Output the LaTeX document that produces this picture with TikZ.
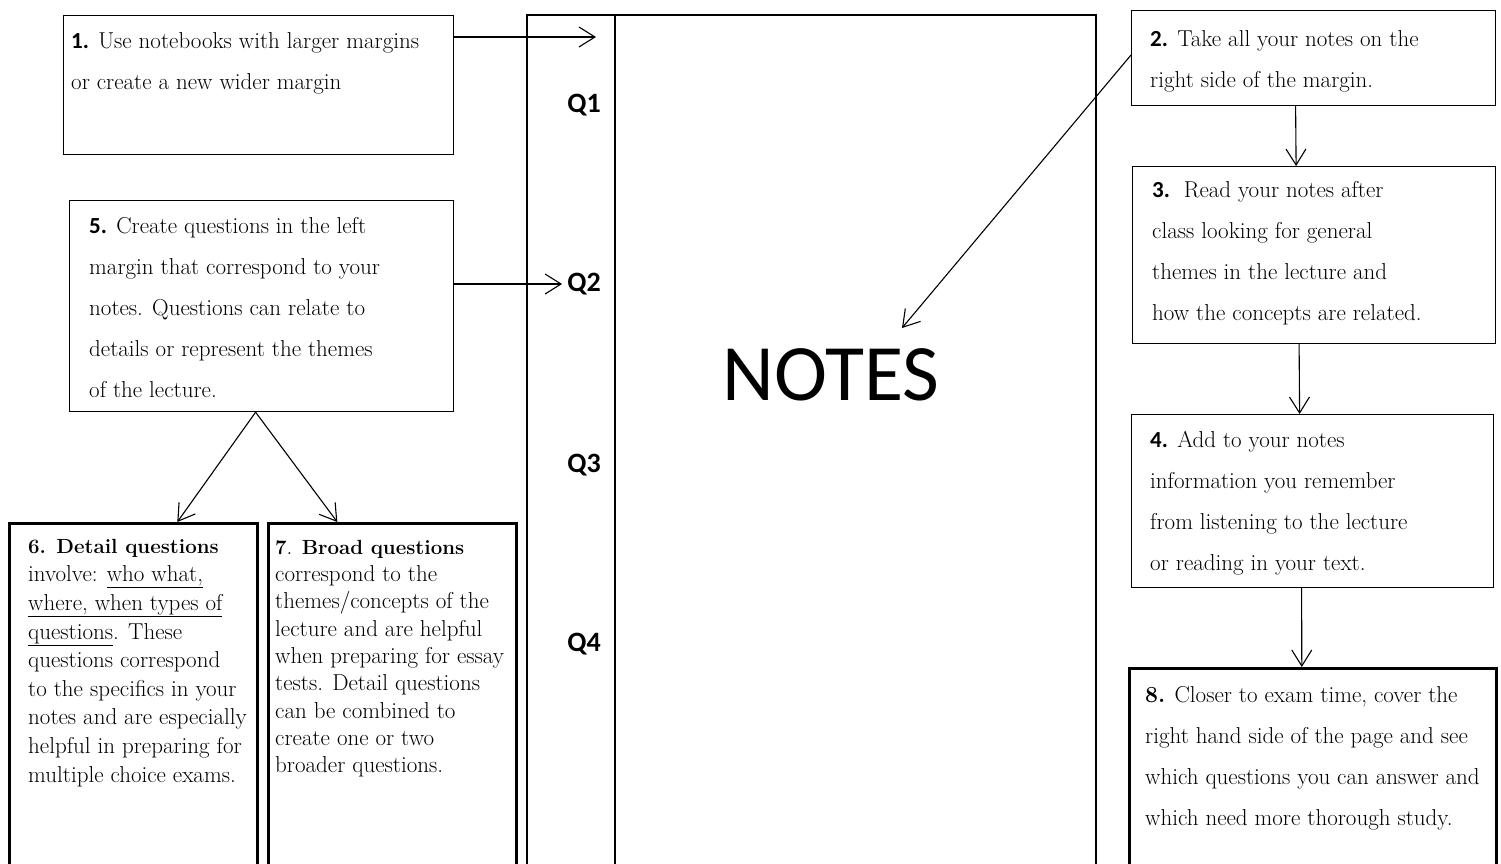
\documentclass[tikz,border=0pt]{standalone}
\usepackage{fontspec}
\newfontfamily\calibri{Carlito}
\usetikzlibrary{positioning,arrows.meta,calc}
\tikzset{
  card/.style={rectangle, draw=black, line width=1.2pt, anchor=north west, inner sep=0pt},
  heavy/.style={card, line width=2.6pt},
  txt/.style={anchor=north west, inner sep=0pt, align=left, font=\fontsize{23}{41}\selectfont},
  connect/.style={-{Straight Barb[length=16pt, width=20pt]}, line width=1.1pt},
  qlabel/.style={font=\calibri\bfseries\fontsize{28}{30}\selectfont, inner sep=5pt}
}
\newcommand{\stepnum}[1]{{\calibri\bfseries #1}}
\newcommand{\topstrut}{\rule{0pt}{17pt}}
\newcommand{\headbf}[1]{{\fontsize{20.5}{27}\selectfont\bfseries #1}}

\begin{document}
\begin{tikzpicture}[x=1pt, y=-1pt]
  \useasboundingbox (0,0) rectangle (1501,863);

  % The notebook page with its margin line
  \node[card, line width=2pt, minimum width=569, minimum height=900] (page) at (526,14) {};
  \draw[line width=1.4pt] ([xshift=89pt]page.north west) -- ([xshift=89pt]page.south west);
  \foreach \i/\y in {1/105,2/284,3/465,4/644}
    \node[qlabel] (q\i) at (584,\y) {Q\i};
  \node[font=\calibri\fontsize{80}{90}\selectfont, inner sep=0pt] (notes) at (831,375) {NOTES};

  % Left column: boxes 1 and 5, then 6 and 7
  \node[card, minimum width=390, minimum height=139] (b1) at (63,15) {};
  \node[txt] (t1) at ([shift={(8,16)}]b1.north west)
    {\topstrut\stepnum{1.} Use notebooks with larger margins\\or create a new wider margin};

  \node[card, minimum width=384, minimum height=211] (b5) at (69,200) {};
  \node[txt] (t5) at ([shift={(20,16)}]b5.north west)
    {\topstrut\stepnum{5.} Create questions in the left\\margin that correspond to your\\notes. Questions can relate to\\details or represent the themes\\of the lecture.};

  \node[heavy, minimum width=248, minimum height=400] (b6) at (8,522) {};
  \node[txt, font=\fontsize{23}{28.6}\selectfont] (t6) at ([shift={(20,14)}]b6.north west)
    {\topstrut\headbf{6. Detail questions}\\involve: \underline{who what,}\\\underline{where, when types of}\\\underline{questions}. These\\questions correspond\\to the specifics in your\\notes and are especially\\helpful in preparing for\\multiple choice exams.};

  \node[heavy, minimum width=248, minimum height=400] (b7) at (267,522) {};
  \node[txt, font=\fontsize{23}{27.3}\selectfont] (t7) at ([shift={(8,15)}]b7.north west)
    {\topstrut\headbf{7}. \headbf{Broad questions}\\correspond to the\\themes/concepts of the\\lecture and are helpful\\when preparing for essay\\tests. Detail questions\\can be combined to\\create one or two\\broader questions.};

  % Right column: boxes 2, 3, 4 and 8
  \node[card, minimum width=364, minimum height=95] (b2) at (1131,10) {};
  \node[txt] (t2) at ([shift={(19,19)}]b2.north west)
    {\topstrut\stepnum{2.} Take all your notes on the\\right side of the margin.};

  \node[card, minimum width=363, minimum height=177] (b3) at (1132,166) {};
  \node[txt] (t3) at ([shift={(20,14)}]b3.north west)
    {\topstrut\stepnum{3.}\ \ Read your notes after\\class looking for general\\themes in the lecture and\\how the concepts are related.};

  \node[card, minimum width=362, minimum height=173] (b4) at (1131,414) {};
  \node[txt] (t4) at ([shift={(19,16)}]b4.north west)
    {\topstrut\stepnum{4.} Add to your notes\\information you remember\\from listening to the lecture\\or reading in your text.};

  \node[heavy, minimum width=367, minimum height=300] (b8) at (1128,667) {};
  \node[txt] (t8) at ([shift={(17,18)}]b8.north west)
    {\topstrut\textbf{8.} Closer to exam time, cover the\\right hand side of the page and see\\which questions you can answer and\\which need more thorough study.};

  % Connectors
  \coordinate (m1) at (596,37);
  \coordinate (n1) at (902,328);
  \draw[connect] ([yshift=-22pt]b1.north east) -- (m1);
  \draw[connect] ([yshift=-84pt]b5.north east) -- (q2.west);
  \draw[connect] ([yshift=-45pt]b2.north west) -- (n1);
  \draw[connect] ([xshift=-18pt]b2.south) -- ([xshift=-18pt]b3.north);
  \draw[connect] ([xshift=-15pt]b3.south) -- ([xshift=-13pt]b4.north);
  \draw[connect] ([xshift=-11pt]b4.south) -- ([xshift=-11pt]b8.north);
  \draw[connect] ([xshift=-6pt]b5.south) -- ([xshift=44pt]b6.north);
  \draw[connect] ([xshift=-6pt]b5.south) -- ([xshift=-55pt]b7.north);
\end{tikzpicture}
\end{document}
